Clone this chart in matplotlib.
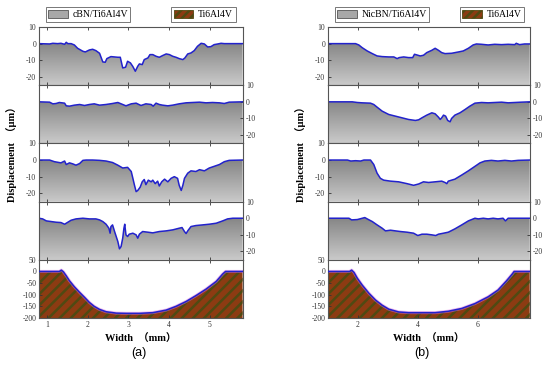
import numpy as np
import matplotlib.pyplot as plt
from matplotlib.colors import LinearSegmentedColormap
from matplotlib.patches import Patch

plt.rcParams['axes.unicode_minus'] = False
plt.rcParams['hatch.linewidth'] = 1.8

SERIF = ['Liberation Serif', 'Noto Sans CJK SC']

# ---- (a) cBN/Ti6Al4V profiles ----
a1_x = [0.80, 1.06, 1.14, 1.26, 1.34, 1.43, 1.47, 1.51, 1.59, 1.67, 1.75, 1.88, 1.94, 2.04, 2.12, 2.20,
        2.29, 2.37, 2.43, 2.47, 2.57, 2.74, 2.80, 2.86, 2.93, 2.98, 3.05, 3.11, 3.17, 3.23, 3.27, 3.34,
        3.39, 3.48, 3.53, 3.60, 3.68, 3.76, 3.84, 3.93, 4.01, 4.09, 4.17, 4.25, 4.34, 4.39, 4.46, 4.54,
        4.62, 4.70, 4.79, 4.87, 4.95, 5.03, 5.11, 5.20, 5.28, 5.36, 5.81]
a1_y = [0, -0.2, 0.2, 0, 0.2, -0.4, 0.8, 0, 0, -0.8, -2.8, -4.6, -5, -3.8, -3.4, -4.2,
        -5.8, -11, -11.2, -9, -7.8, -8.2, -8.2, -14.6, -14.2, -10.6, -11.6, -13.8, -16.6, -13.6, -12.2, -12.6,
        -9.6, -8.6, -6.6, -6.6, -7.6, -8.2, -7.2, -6.2, -6.6, -7.6, -8.2, -9, -9.6, -8.6, -6.2, -5.6,
        -4.2, -1.6, 0.2, -0.2, -2, -1.8, -0.6, -0.2, 0.2, 0, 0]

a2_x = [0.80, 1.06, 1.14, 1.22, 1.30, 1.43, 1.47, 1.55, 1.67, 1.80, 1.92, 2.04, 2.16, 2.29, 2.45, 2.61,
        2.74, 2.86, 2.94, 3.07, 3.19, 3.31, 3.43, 3.56, 3.61, 3.68, 3.76, 3.84, 3.97, 4.09, 4.25, 4.42,
        4.58, 4.75, 4.91, 5.07, 5.24, 5.36, 5.48, 5.81]
a2_y = [0, -0.2, -1.2, -1, -0.4, -0.8, -2.4, -2.6, -2, -1.6, -2.2, -1.6, -1.2, -2, -1.6, -1,
        -0.4, -1.6, -2.4, -1.2, -0.8, -2.2, -1.2, -1.6, -2.6, -0.8, -1.6, -2, -2.4, -2, -1.2, -0.6,
        -0.4, -0.2, -0.6, -0.4, -0.6, -1, -0.2, 0]

a3_x = [0.80, 1.06, 1.18, 1.34, 1.43, 1.47, 1.55, 1.63, 1.71, 1.80, 1.88, 1.96, 2.12, 2.29, 2.45, 2.61,
        2.74, 2.86, 2.98, 3.07, 3.11, 3.15, 3.19, 3.23, 3.29, 3.34, 3.39, 3.43, 3.49, 3.56, 3.60, 3.66,
        3.72, 3.76, 3.82, 3.89, 3.97, 4.05, 4.13, 4.21, 4.25, 4.30, 4.34, 4.38, 4.46, 4.54, 4.66, 4.75,
        4.87, 4.99, 5.11, 5.24, 5.36, 5.48, 5.81]
a3_y = [0, 0, -1, -1.7, -0.6, -2.7, -1.7, -2.3, -3.1, -2.1, -0.2, 0, 0, -0.2, -0.6, -1.5,
        -3.1, -4.8, -4.4, -6.9, -11, -15.2, -19, -18.3, -16.3, -13.1, -11.7, -14.8, -12.1, -13.1, -12.1, -14.2,
        -12.7, -15.6, -13.1, -11.5, -13.1, -11, -10, -11, -15.2, -18.3, -15.2, -11, -7.9, -6.5, -6.9, -5.8,
        -6.5, -4.8, -3.8, -2.7, -1, -0.2, 0]

a4_x = [0.80, 0.89, 0.98, 1.10, 1.22, 1.34, 1.43, 1.51, 1.59, 1.71, 1.88, 2.04, 2.20, 2.29, 2.37, 2.45,
        2.52, 2.55, 2.57, 2.61, 2.66, 2.70, 2.74, 2.78, 2.82, 2.86, 2.89, 2.91, 2.94, 2.98, 3.02, 3.11,
        3.19, 3.23, 3.27, 3.35, 3.48, 3.60, 3.76, 3.93, 4.09, 4.25, 4.32, 4.38, 4.42, 4.46, 4.54, 4.66,
        4.83, 4.99, 5.16, 5.32, 5.44, 5.57, 5.81]
a4_y = [0, -0.4, -1.6, -2, -2.4, -2.6, -3.6, -2.4, -1.2, -0.4, 0, -0.4, -0.4, -1, -2, -3.6,
        -6, -9, -5, -4, -8, -11, -14, -18.4, -17, -12, -6, -3.6, -10, -11, -9.6, -9,
        -10, -12, -9.6, -8, -8.4, -8.8, -8, -7.6, -7, -6, -5.6, -8, -9.2, -7.6, -5, -4.4,
        -4, -3.6, -3, -1.6, -0.4, 0, 0]

a5_x = [0.80, 1.30, 1.35, 1.40, 1.47, 1.55, 1.67, 1.80, 1.92, 2.04, 2.16, 2.29, 2.45, 2.70, 2.94, 3.27,
        3.60, 3.93, 4.17, 4.42, 4.66, 4.91, 5.16, 5.32, 5.39, 5.81]
a5_y = [0, 0, 5.7, -1.4, -18.6, -40, -65.7, -90, -111, -133, -150, -163, -173, -179, -180, -180,
        -177, -166, -150, -129, -104, -76, -43, -11, 0, 0]

# ---- (b) NicBN/Ti6Al4V profiles ----
b1_x = [1.01, 1.92, 2.03, 2.14, 2.31, 2.48, 2.64, 2.81, 3.03, 3.20, 3.31, 3.38, 3.53, 3.69, 3.83, 3.89,
        3.97, 4.08, 4.19, 4.30, 4.47, 4.58, 4.69, 4.80, 4.91, 5.13, 5.36, 5.52, 5.69, 5.85, 5.96, 6.13,
        6.35, 6.57, 6.80, 7.02, 7.24, 7.29, 7.40, 7.57, 7.74]
b1_y = [0, 0, -0.8, -2.4, -4.4, -6, -7.4, -7.8, -8, -8, -9, -8.4, -8, -8.4, -8.4, -6.4,
        -6.8, -7.4, -7, -5.4, -4, -2.8, -4, -5.4, -6, -5.8, -5, -4.4, -2.8, -0.8, -0.2, -0.4,
        -0.8, -0.4, -0.6, -0.4, -0.6, 0.2, -0.6, -0.2, -0.2]

b2_x = [1.01, 1.81, 1.98, 2.14, 2.42, 2.53, 2.64, 2.81, 3.03, 3.25, 3.47, 3.69, 3.92, 4.03, 4.14, 4.30,
        4.47, 4.58, 4.69, 4.75, 4.80, 4.86, 4.93, 5.00, 5.08, 5.13, 5.24, 5.41, 5.58, 5.74, 5.91, 6.13,
        6.35, 6.57, 6.80, 7.02, 7.24, 7.46, 7.74]
b2_y = [0, 0, -0.4, -0.6, -0.8, -1.6, -3.2, -5.6, -7.6, -8.6, -9.6, -10.6, -11.2, -10.8, -9.6, -8,
        -6.6, -7.2, -9.2, -10.6, -9.6, -8, -8.6, -11.2, -12, -10, -8, -6.6, -4.6, -2.6, -0.8, -0.4,
        -0.6, -0.4, -0.2, -0.6, -0.4, -0.2, 0]

b3_x = [1.01, 1.65, 1.76, 1.92, 2.09, 2.20, 2.42, 2.53, 2.64, 2.75, 2.86, 3.09, 3.36, 3.64, 3.86, 4.03,
        4.19, 4.36, 4.58, 4.80, 4.91, 4.97, 5.02, 5.24, 5.47, 5.69, 5.91, 6.08, 6.24, 6.46, 6.68, 6.91,
        7.13, 7.35, 7.74]
b3_y = [0, 0, -0.6, -0.4, -0.6, 0, 0, -2.7, -7.9, -11, -12.1, -12.7, -13.1, -14.2, -15.2, -14.4,
        -13.1, -13.5, -13.1, -12.7, -13.5, -14.2, -12.7, -11.5, -9, -6.5, -3.8, -1.7, -0.6, -0.2, -0.6, -0.2,
        -0.6, -0.2, 0]

b4_x = [1.01, 1.70, 1.79, 1.98, 2.23, 2.31, 2.48, 2.64, 2.81, 2.92, 3.09, 3.25, 3.42, 3.64, 3.86, 4.00,
        4.14, 4.30, 4.47, 4.60, 4.69, 4.86, 5.02, 5.24, 5.47, 5.69, 5.91, 6.02, 6.19, 6.35, 6.52, 6.68,
        6.85, 6.93, 7.02, 7.74]
b4_y = [0, 0, -1, -0.8, 0.4, -0.4, -2, -4, -6, -7.6, -7.2, -7.6, -8, -8.4, -9, -10.4,
        -9.6, -9.6, -10, -10.4, -9.6, -9, -8.4, -6.4, -4, -1.6, 0, -0.4, 0, -0.4, 0, -0.4,
        0, -1.6, 0, 0]

b5_x = [1.01, 1.72, 1.79, 1.87, 1.98, 2.14, 2.37, 2.59, 2.81, 3.03, 3.36, 3.69, 4.14, 4.58, 5.02, 5.47,
        5.91, 6.35, 6.68, 6.96, 7.15, 7.22, 7.74]
b5_y = [0, 0, 5.8, -4.3, -29, -58, -94, -123, -145, -162, -174, -177, -177, -177, -171, -159,
        -138, -109, -80, -41, -12, 0, 0]

legend_a = ['cBN/Ti6Al4V', 'Ti6Al4V']
legend_b = ['NicBN/Ti6Al4V', 'Ti6Al4V']
ticks_small = [10, 0, -10, -20]
ticks_big = [50, 0, -50, -100, -150, -200]

BLUE = '#2222cc'
BROWN = '#8c3b12'
OLIVE = '#4f4a12'
gray_cmap = LinearSegmentedColormap.from_list('g', ['#cacaca', '#868686'])

fig = plt.figure(figsize=(5.5, 3.72), dpi=100)

top_px, ph = 27, 58.2


def gray_panel(ax, x, y, xlim):
    ax.set_xlim(*xlim)
    ax.set_ylim(-25, 10)
    poly = ax.fill_between(x, y, -25, facecolor='none', edgecolor='none')
    grad = np.linspace(0, 1, 256).reshape(-1, 1)
    im = ax.imshow(grad, cmap=gray_cmap, aspect='auto', origin='lower',
                   extent=[xlim[0], xlim[1], -25, 0], zorder=1)
    im.set_clip_path(poly.get_paths()[0], transform=ax.transData)
    ax.plot(x, y, color=BLUE, lw=1.1, zorder=2)
    ax.set_yticks(ticks_small)


def hatch_panel(ax, x, y, xlim):
    ax.set_xlim(*xlim)
    ax.set_ylim(-200, 50)
    ax.fill_between(x, y, -200, facecolor=BROWN, edgecolor=OLIVE, hatch='///', linewidth=0, zorder=1)
    ax.plot(x, y, color='#e070e0', lw=2.2, alpha=0.5, zorder=2)
    ax.plot(x, y, color=BLUE, lw=1.1, zorder=3)
    ax.set_yticks(ticks_big)


def build(left_px, right_px, xlim, xticks, profiles, bottom, legend_names, leg_px, tag, tag_x):
    axes = []
    for i in range(5):
        b = 1 - (top_px + (i + 1) * ph) / 372
        ax = fig.add_axes([left_px / 550, b, (right_px - left_px) / 550, ph / 372])
        for s in ax.spines.values():
            s.set_color('#555555')
            s.set_linewidth(0.8)
        ax.tick_params(direction='in', length=2, width=0.6, labelsize=5.5, colors='#333333',
                       top=True, pad=2)
        if i < 4:
            gray_panel(ax, profiles[i][0], profiles[i][1], xlim)
        else:
            hatch_panel(ax, bottom[0], bottom[1], xlim)
        ax.set_xticks(xticks)
        if i < 4:
            ax.tick_params(labelbottom=False)
        if i in (1, 3):
            ax.yaxis.tick_right()
            ax.tick_params(right=True, left=False)
        for lab in ax.get_xticklabels() + ax.get_yticklabels():
            lab.set_family(SERIF)
        axes.append(ax)
    axes[-1].set_xlabel('Width  （mm）', family=SERIF, fontweight='bold', fontsize=7.5, labelpad=4)
    fig.text((left_px - 27) / 550, 1 - 152 / 372, 'Displacement  （μm）', rotation=90,
             family=SERIF, fontweight='bold', fontsize=7.5, ha='center', va='center')
    h1 = Patch(facecolor='#a8a8a8', edgecolor='#555555', linewidth=0.6)
    h2 = Patch(facecolor=BROWN, edgecolor=OLIVE, hatch='////', linewidth=0.6)
    for h, name, (x0, x1) in zip([h1, h2], legend_names, leg_px):
        leg = fig.legend([h], [name], loc='center', bbox_to_anchor=((x0 + x1) / 2 / 550, 1 - 14.5 / 372),
                         frameon=True, fancybox=False, handlelength=2.0, handleheight=0.9,
                         handletextpad=0.5, borderpad=0.25, borderaxespad=0, prop={'family': SERIF, 'size': 7})
        leg.get_frame().set_edgecolor('#555555')
        leg.get_frame().set_linewidth(0.7)
    fig.text(tag_x / 550, 1 - 353 / 372, tag, fontsize=9, family='Liberation Sans', ha='center', va='center')


build(39, 243, (0.8, 5.82), [1, 2, 3, 4, 5],
      [(a1_x, a1_y), (a2_x, a2_y), (a3_x, a3_y), (a4_x, a4_y)], (a5_x, a5_y),
      legend_a, [(45, 131), (170, 237)], '(a)', 139)
build(328, 530, (1.0, 7.75), [2, 4, 6],
      [(b1_x, b1_y), (b2_x, b2_y), (b3_x, b3_y), (b4_x, b4_y)], (b5_x, b5_y),
      legend_b, [(332, 432), (457, 527)], '(b)', 422)

fig.savefig('out.png', dpi=100)
